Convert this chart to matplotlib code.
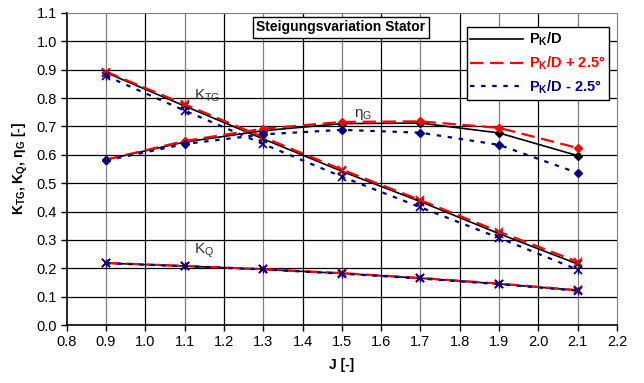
import numpy as np
import matplotlib.pyplot as plt
from matplotlib.lines import Line2D

plt.rcParams['font.family'] = ['Liberation Sans', 'DejaVu Sans']
plt.rcParams['mathtext.fontset'] = 'custom'
plt.rcParams['mathtext.rm'] = 'Liberation Sans'
plt.rcParams['mathtext.it'] = 'Liberation Sans:italic'
plt.rcParams['mathtext.bf'] = 'Liberation Sans:bold'

## data
J = [0.9, 1.1, 1.3, 1.5, 1.7, 1.9, 2.1]

ktg_base = [0.89, 0.772, 0.656, 0.542, 0.435, 0.322, 0.215]
ktg_plus = [0.893, 0.778, 0.662, 0.548, 0.44, 0.329, 0.223]
ktg_minus = [0.878, 0.756, 0.638, 0.523, 0.415, 0.307, 0.195]

eta_base = [0.583, 0.645, 0.685, 0.71, 0.712, 0.677, 0.597]
eta_plus = [0.583, 0.649, 0.692, 0.716, 0.718, 0.695, 0.624]
eta_minus = [0.58, 0.638, 0.672, 0.688, 0.678, 0.635, 0.536]

kq_base = [0.218, 0.208, 0.196, 0.182, 0.165, 0.145, 0.122]
kq_plus = [0.219, 0.208, 0.197, 0.183, 0.166, 0.146, 0.123]
kq_minus = [0.218, 0.207, 0.196, 0.181, 0.164, 0.144, 0.121]

series = ['P$_\\mathbf{K}$/D', 'P$_\\mathbf{K}$/D + 2.5°', 'P$_\\mathbf{K}$/D - 2.5°']
colors = ['black', '#ff0000', '#000080']

fig = plt.figure(figsize=(6.44, 3.83), dpi=100)
ax = fig.add_axes([0.1036, 0.1514, 0.8545, 0.8147])

# grid: gray where data columns are, black elsewhere
for xv in np.arange(0.9, 2.15, 0.1):
    c = '#808080' if round(xv * 10) % 2 == 1 else 'black'
    ax.axvline(xv, color=c, lw=0.9, zorder=0)
for yv in np.arange(0.1, 1.05, 0.1):
    ax.axhline(yv, color='black', lw=0.9, zorder=0)

styles = [dict(ls='-', lw=1.2),
          dict(ls=(0, (6, 3)), lw=1.6),
          dict(ls=(0, (2, 3)), lw=1.6)]
kt = [ktg_base, ktg_plus, ktg_minus]
et = [eta_base, eta_plus, eta_minus]
kq = [kq_base, kq_plus, kq_minus]
for i in range(3):
    ax.plot(J, kt[i], color=colors[i], marker='x', ms=6, mew=1.2, zorder=3 + i, **styles[i])
    ax.plot(J, et[i], color=colors[i], marker='D', ms=4.5, zorder=3 + i, **styles[i])
    ax.plot(J, kq[i], color=colors[i], marker='x', ms=6, mew=1.2, zorder=3 + i, **styles[i])
# blue star marks
ax.plot(J, ktg_minus, ls='none', marker='|', ms=6, color=colors[2], zorder=6)
ax.plot(J, kq_minus, ls='none', marker='|', ms=6, color=colors[2], zorder=6)

ax.text(1.125, 0.795, 'K$_\\mathrm{TG}$', fontsize=11, color='#333333')
ax.text(1.53, 0.735, 'η$_\\mathrm{G}$', fontsize=11, color='#333333')
ax.text(1.125, 0.25, 'K$_\\mathrm{Q}$', fontsize=11, color='#333333')

ax.text(1.497, 1.05, 'Steigungsvariation Stator', fontsize=10, fontweight='bold',
        ha='center', va='center',
        bbox=dict(boxstyle='square,pad=0.25', fc='white', ec='black', lw=1))

handles = [Line2D([], [], color=colors[i], **styles[i]) for i in range(3)]
leg = ax.legend(handles, series, loc='upper right', bbox_to_anchor=(0.985, 0.955),
                prop={'weight': 'bold', 'size': 10.5}, frameon=True, fancybox=False,
                edgecolor='black', framealpha=1, handlelength=3.6,
                borderpad=0.25, labelspacing=0.45, handletextpad=0.4, borderaxespad=0)
leg.get_frame().set_linewidth(1)
for t, c in zip(leg.get_texts(), colors):
    t.set_color(c)

ax.set_xlim(0.8, 2.2)
ax.set_ylim(0.0, 1.1)
ax.set_xticks(np.arange(0.8, 2.21, 0.1))
ax.set_yticks(np.arange(0.0, 1.11, 0.1))
ax.xaxis.set_major_formatter(plt.FormatStrFormatter('%.1f'))
ax.yaxis.set_major_formatter(plt.FormatStrFormatter('%.1f'))
ax.tick_params(direction='out', length=4, width=1, labelsize=10.5, pad=3)
ax.spines['top'].set_color('#808080')
ax.spines['right'].set_color('#808080')
ax.spines['left'].set_linewidth(1.2)
ax.spines['bottom'].set_linewidth(1.2)

ax.set_xlabel('J [-]', fontsize=10, fontweight='bold', labelpad=7)
ax.set_ylabel('K$_\\mathbf{TG}$, K$_\\mathbf{Q}$, η$_\\mathbf{G}$ [-]', fontsize=10,
              fontweight='bold', labelpad=5)

fig.savefig('out.png', dpi=100)
